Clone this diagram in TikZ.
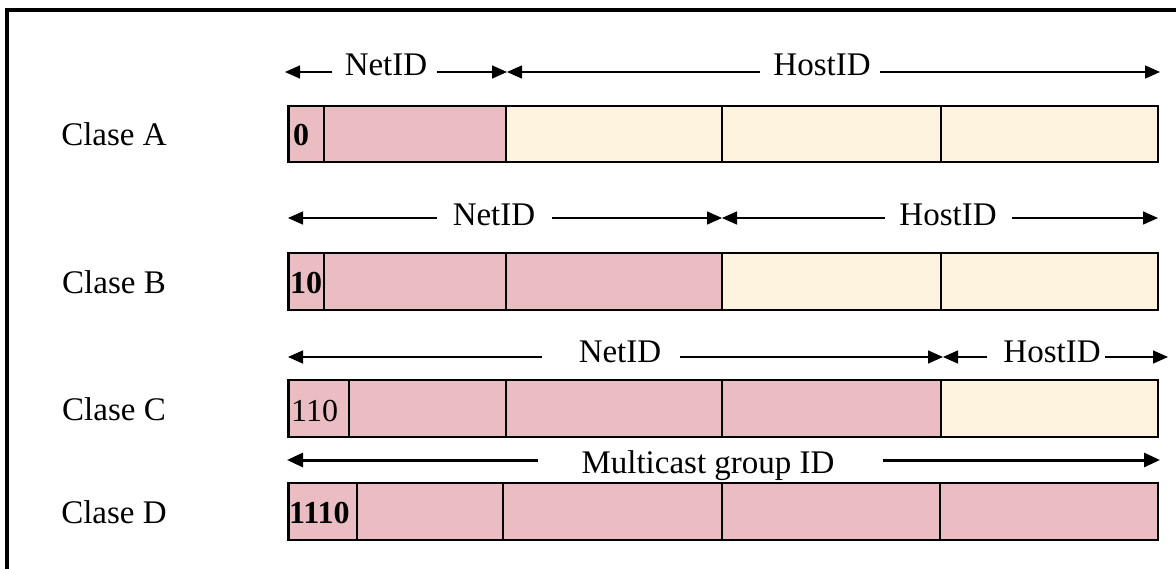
\documentclass[tikz,border=0pt]{standalone}
\usepackage{fontspec}
\setmainfont{Liberation Serif}
\usetikzlibrary{arrows.meta}
\definecolor{netpink}{RGB}{234,189,194}
\definecolor{hostcream}{RGB}{253,243,222}

\begin{document}
\begin{tikzpicture}[x=1pt,y=-1pt,
  field/.style={draw=black, line width=1.6pt},
  dim/.style={line width=1.5pt, -{Triangle[length=15pt,width=13pt]}},
  dimthick/.style={line width=3pt, -{Triangle[length=16pt,width=14pt]}},
  lbl/.style={font=\fontsize{33}{40}\selectfont, anchor=base, inner sep=0pt},
  bitsb/.style={font=\fontsize{32}{36}\selectfont\bfseries, anchor=base west, inner sep=0pt},
  bitsr/.style={font=\fontsize{32}{36}\selectfont, anchor=base west, inner sep=0pt},
]
\useasboundingbox (0,0) rectangle (1176,568);
\fill[white] (0,0) rectangle (1176,568);
% frame
\draw[line width=4pt] (7,570) -- (7,10) -- (1178,10);

% ---------- Class A ----------
\fill[netpink] (288,106) rectangle (506,162);
\fill[hostcream] (506,106) rectangle (1158,162);
\draw[field] (288,106) rectangle (1158,162);
\foreach \x in {324,506,722,941} \draw[field] (\x,106) -- (\x,162);
\draw[line width=3pt] (288,106) -- (288,162);
\node[lbl] (clA) at (114,145.5) {Clase A};
\node[bitsb] (bA) at (293,145) {0};
\coordinate (aL) at (285,72);
\coordinate (aM) at (507,72);
\coordinate (aR) at (1160,72);
\node[lbl] (netA) at (386,75) {NetID};
\node[lbl] (hostA) at (822,75) {HostID};
\coordinate (aN1) at (332,72);
\coordinate (aN2) at (437,72);
\coordinate (aH1) at (760,72);
\coordinate (aH2) at (880,72);
\draw[dim] (aN1) -- (aL);
\draw[dim] (aN2) -- (aM);
\draw[dim] (aH1) -- (aM);
\draw[dim] (aH2) -- (aR);

% ---------- Class B ----------
\fill[netpink] (288,253) rectangle (722,310);
\fill[hostcream] (722,253) rectangle (1158,310);
\draw[field] (288,253) rectangle (1158,310);
\foreach \x in {324,506,722,941} \draw[field] (\x,253) -- (\x,310);
\draw[line width=3pt] (288,253) -- (288,310);
\node[lbl] (clB) at (114,293) {Clase B};
\node[bitsb] (bB) at (290,293) {10};
\coordinate (bL) at (288,218);
\coordinate (bM) at (722,218);
\coordinate (bR) at (1158,218);
\node[lbl] (netB) at (494,225) {NetID};
\node[lbl] (hostB) at (948,225) {HostID};
\coordinate (bN1) at (437,218);
\coordinate (bN2) at (552,218);
\coordinate (bH1) at (885,218);
\coordinate (bH2) at (1012,218);
\draw[dim] (bN1) -- (bL);
\draw[dim] (bN2) -- (bM);
\draw[dim] (bH1) -- (bM);
\draw[dim] (bH2) -- (bR);

% ---------- Class C ----------
\fill[netpink] (288,380) rectangle (941,437);
\fill[hostcream] (941,380) rectangle (1158,437);
\draw[field] (288,380) rectangle (1158,437);
\foreach \x in {349,506,722,941} \draw[field] (\x,380) -- (\x,437);
\draw[line width=3pt] (288,380) -- (288,437);
\node[lbl] (clC) at (114,420) {Clase C};
\node[bitsr] (bC) at (291,421) {110};
\coordinate (cL) at (288,357);
\coordinate (cM) at (943,357);
\coordinate (cR) at (1168,357);
\node[lbl] (netC) at (620,362) {NetID};
\node[lbl] (hostC) at (1052,362) {HostID};
\coordinate (cN1) at (542,357);
\coordinate (cN2) at (680,357);
\coordinate (cH1) at (987,357);
\coordinate (cH2) at (1105,357);
\draw[dim] (cN1) -- (cL);
\draw[dim] (cN2) -- (cM);
\draw[dim] (cH1) -- (cM);
\draw[dim] (cH2) -- (cR);

% ---------- Class D ----------
\fill[netpink] (288,483) rectangle (1158,540);
\draw[field, line width=2.2pt] (288,483) rectangle (1158,540);
\foreach \x in {357,503,722,940} \draw[field, line width=2.2pt] (\x,483) -- (\x,540);
\draw[line width=3pt] (288,483) -- (288,540);
\node[lbl] (clD) at (114,523) {Clase D};
\node[bitsb] (bD) at (289,523) {1110};
\coordinate (dL) at (287,460);
\coordinate (dR) at (1160,460);
\node[lbl] (mcD) at (708,473) {Multicast group ID};
\coordinate (dN1) at (538,460);
\coordinate (dN2) at (883,460);
\draw[dimthick] (dN1) -- (dL);
\draw[dimthick] (dN2) -- (dR);
\end{tikzpicture}
\end{document}
